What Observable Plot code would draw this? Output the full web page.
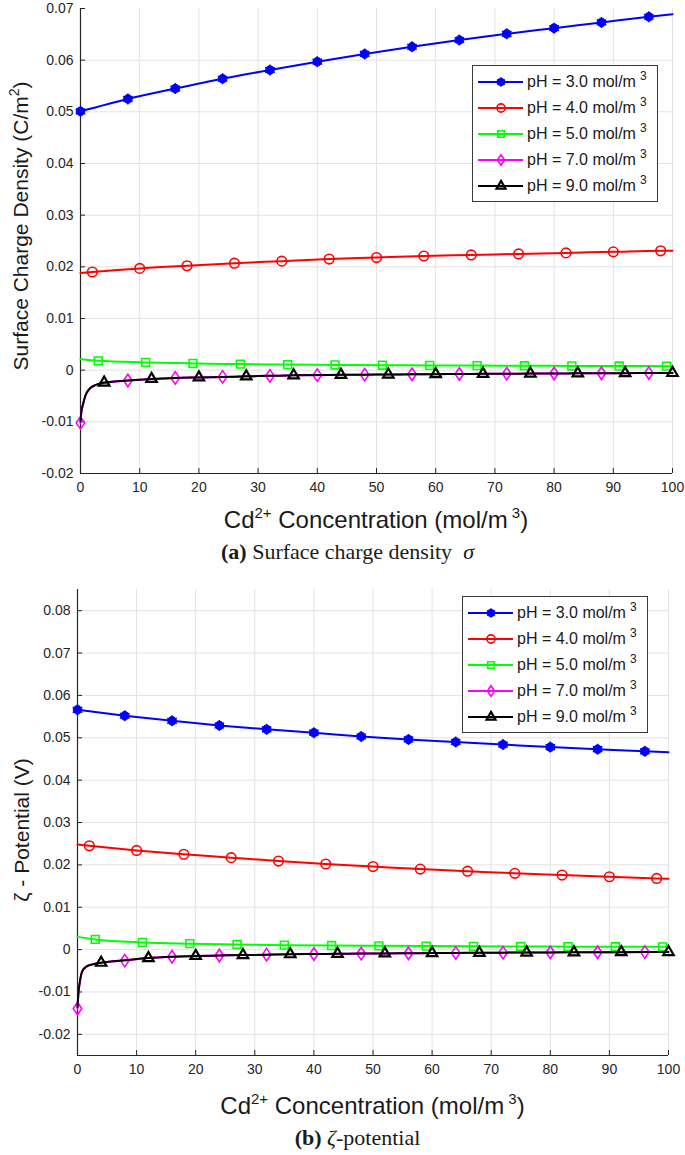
<!DOCTYPE html>
<html>
<head>
<meta charset="utf-8">
<script src="https://cdn.jsdelivr.net/npm/d3@7"></script>
<script src="https://cdn.jsdelivr.net/npm/@observablehq/plot@0.6"></script>
<style>
  body { margin: 0; background: #fff; }
  #page { position: relative; width: 685px; height: 1155px; overflow: hidden; font-family: "Liberation Sans", Arial, Helvetica, sans-serif; color: #1a1a1a; }
  .xlab { font-size: 24px; text-align: center; white-space: nowrap; line-height: 28px; }
  .ylab { font-size: 21px; white-space: nowrap; line-height: 26px; transform: translate(-50%, -50%) rotate(-90deg); }
  .sup { font-size: 15px; position: relative; top: -10px; }
  .ysup { font-size: 14px; position: relative; top: -9px; }
  .cap { font-family: "Liberation Serif", "Times New Roman", serif; font-size: 22px; text-align: center; white-space: nowrap; line-height: 26px; }
  .legend { position: absolute; background: #fff; border: 1px solid #3a3a3a; box-sizing: border-box; }
  .lrow { position: absolute; left: 0; height: 22px; display: flex; align-items: center; font-size: 16px; white-space: nowrap; }
  .lsup { font-size: 12px; position: relative; top: -7px; margin-left: 4px; }
</style>
</head>
<body>
<div id="page"></div>
<script>
// ---------- data ----------
const xTicks = [0, 10, 20, 30, 40, 50, 60, 70, 80, 90, 100];
const yTicksA = [-0.02, -0.01, 0, 0.01, 0.02, 0.03, 0.04, 0.05, 0.06, 0.07];
const yTicksB = [-0.02, -0.01, 0, 0.01, 0.02, 0.03, 0.04, 0.05, 0.06, 0.07, 0.08];
const yDomainA = [-0.02, 0.07];
const yDomainB = [-0.025, 0.085];

const seriesNames = ["pH = 3.0 mol/m", "pH = 4.0 mol/m", "pH = 5.0 mol/m", "pH = 7.0 mol/m", "pH = 9.0 mol/m"];
const seriesColors = ["#0000ff", "#ff0000", "#00ff00", "#ff00ff", "#000000"];

// Cd2+ concentration samples for each series
const xPH3 = [0, 8, 16, 24, 32, 40, 48, 56, 64, 72, 80, 88, 96, 100];
const xPH4 = [0, 2, 10, 18, 26, 34, 42, 50, 58, 66, 74, 82, 90, 98, 100];
const xPH5 = [0, 3, 11, 19, 27, 35, 43, 51, 59, 67, 75, 83, 91, 99, 100];
const xPH79 = [0, 0.15, 0.4, 0.8, 1.5, 2.5, 4, 8, 12, 16, 20, 24, 28, 32, 36, 40, 44, 48, 52, 56, 60, 64, 68, 72, 76, 80, 84, 88, 92, 96, 100];

// marker locations
const markPH3 = [0, 8, 16, 24, 32, 40, 48, 56, 64, 72, 80, 88, 96];
const markPH4 = [2, 10, 18, 26, 34, 42, 50, 58, 66, 74, 82, 90, 98];
const markPH5 = [3, 11, 19, 27, 35, 43, 51, 59, 67, 75, 83, 91, 99];
const markPH7 = [0, 8, 16, 24, 32, 40, 48, 56, 64, 72, 80, 88, 96];
const markPH9 = [4, 12, 20, 28, 36, 44, 52, 60, 68, 76, 84, 92, 100];

// (a) surface charge density (C/m^2)
const sigmaPH3 = [0.0501, 0.0525, 0.0545, 0.0564, 0.0581, 0.0597, 0.0612, 0.0626, 0.0639, 0.0651, 0.0662, 0.0673, 0.0684, 0.0689];
const sigmaPH4 = [0.0188, 0.0190, 0.0197, 0.0202, 0.0207, 0.0211, 0.0215, 0.0218, 0.0221, 0.0223, 0.0225, 0.0227, 0.0229, 0.0231, 0.0231];
const sigmaPH5 = [0.0021, 0.0018, 0.0015, 0.0013, 0.00117, 0.00108, 0.00101, 0.00096, 0.00092, 0.00088, 0.00085, 0.00082, 0.0008, 0.00078, 0.00078];
const sigmaPH7 = [-0.0102, -0.0081, -0.0068, -0.0051, -0.0037, -0.0029, -0.0025, -0.0020, -0.0017, -0.0015, -0.0014, -0.0013, -0.0012, -0.0011, -0.0010, -0.00096, -0.00091, -0.00087, -0.00084, -0.0008, -0.00077, -0.00074, -0.00071, -0.00068, -0.00066, -0.00064, -0.00062, -0.0006, -0.00058, -0.00056, -0.00054];
const sigmaPH9 = [-0.0099, -0.0080, -0.0067, -0.0050, -0.0036, -0.0029, -0.0024, -0.0020, -0.0017, -0.0015, -0.0014, -0.0013, -0.0012, -0.0011, -0.0010, -0.00095, -0.0009, -0.00087, -0.00084, -0.0008, -0.00077, -0.00074, -0.00071, -0.00068, -0.00066, -0.00064, -0.00062, -0.0006, -0.00058, -0.00056, -0.00054];

// (b) zeta potential (V)
const zetaPH3 = [0.0566, 0.0552, 0.0540, 0.0529, 0.0520, 0.0512, 0.0503, 0.0496, 0.0490, 0.0484, 0.0478, 0.0473, 0.0468, 0.0466];
const zetaPH4 = [0.0248, 0.0245, 0.0234, 0.0225, 0.0217, 0.0209, 0.0202, 0.0196, 0.0190, 0.0185, 0.0180, 0.0176, 0.0172, 0.0168, 0.0167];
const zetaPH5 = [0.0030, 0.0024, 0.0017, 0.0014, 0.0012, 0.00105, 0.00095, 0.00088, 0.00082, 0.00077, 0.00073, 0.0007, 0.00067, 0.00065, 0.00065];
const zetaPH7 = [-0.0139, -0.0105, -0.0077, -0.0052, -0.0041, -0.0035, -0.0031, -0.0026, -0.0020, -0.0017, -0.0015, -0.0014, -0.0013, -0.0012, -0.0011, -0.00105, -0.001, -0.00095, -0.0009, -0.00086, -0.00082, -0.00078, -0.00075, -0.00072, -0.0007, -0.00067, -0.00065, -0.00063, -0.00061, -0.00059, -0.00057];
const zetaPH9 = [-0.0136, -0.0104, -0.0076, -0.0051, -0.0040, -0.0035, -0.0031, -0.0025, -0.0020, -0.0017, -0.0015, -0.0014, -0.0013, -0.0012, -0.0011, -0.00105, -0.001, -0.00095, -0.0009, -0.00086, -0.00082, -0.00078, -0.00075, -0.00072, -0.0007, -0.00067, -0.00065, -0.00063, -0.00061, -0.00059, -0.00057];

// ---------- styles ----------
const tallDiamond = {
  draw(ctx, size) {
    const r = Math.sqrt(size / Math.PI);
    const h = r * 1.25, w = r * 0.85;
    ctx.moveTo(0, -h); ctx.lineTo(w, 0); ctx.lineTo(0, h); ctx.lineTo(-w, 0); ctx.closePath();
  }
};
const markerStyles = [
  [{symbol: "circle", r: 4.3, fill: "c", stroke: "c", strokeWidth: 1}, {symbol: "asterisk", r: 5.2, fill: "none", stroke: "c", strokeWidth: 1.4}],
  [{symbol: "circle", r: 4.8, fill: "none", stroke: "c", strokeWidth: 1.6}],
  [{symbol: "square", r: 4.4, fill: "none", stroke: "c", strokeWidth: 1.6}],
  [{symbol: tallDiamond, r: 5, fill: "none", stroke: "c", strokeWidth: 1.6}],
  [{symbol: "triangle2", r: 5, fill: "none", stroke: "c", strokeWidth: 2.2}]
];
const axisColor = "#262626";
const gridColor = "#e3e3e3";

const rows = (xs, ys) => xs.map((x, i) => ({x, y: ys[i]}));

function seriesMarks(xs, ys, marks, k) {
  const data = rows(xs, ys);
  const color = seriesColors[k];
  const out = [Plot.line(data, {x: "x", y: "y", stroke: color, strokeWidth: 2, curve: "monotone-x"})];
  const md = data.filter(d => marks.includes(d.x));
  for (const s of markerStyles[k]) {
    out.push(Plot.dot(md, {x: "x", y: "y", symbol: s.symbol, r: s.r,
      fill: s.fill === "c" ? color : s.fill, stroke: color, strokeWidth: s.strokeWidth}));
  }
  return out;
}

function panel({yDomain, yTicks, gridY, series, marginLeft, marginRight, marginTop, plotHeight}) {
  return Plot.plot({
    width: 685,
    height: marginTop + plotHeight + 30,
    marginLeft, marginRight, marginTop, marginBottom: 30,
    x: {domain: [0, 100]},
    y: {domain: yDomain},
    style: {fontFamily: "'Liberation Sans', Arial, sans-serif", fontSize: "14px", color: axisColor, background: "transparent", overflow: "visible"},
    marks: [
      Plot.gridX(xTicks, {stroke: gridColor, strokeOpacity: 1, strokeWidth: 1}),
      Plot.gridY(gridY, {stroke: gridColor, strokeOpacity: 1, strokeWidth: 1}),
      Plot.ruleX([0], {stroke: axisColor, strokeWidth: 1.2}),
      Plot.ruleY([yDomain[0]], {stroke: axisColor, strokeWidth: 1.2}),
      Plot.axisX(xTicks, {anchor: "bottom", tickSize: -5, tickPadding: 14, tickFormat: d => String(d), label: null, stroke: axisColor}),
      Plot.axisY(yTicks, {anchor: "left", tickSize: -5, tickPadding: 12, tickFormat: d => String(d), label: null, stroke: axisColor}),
      ...series.flatMap(([xs, ys, m], k) => seriesMarks(xs, ys, m, k))
    ]
  });
}

const page = document.getElementById("page");

function place(el, left, top) {
  el.style.position = "absolute";
  el.style.left = left + "px";
  el.style.top = top + "px";
  page.appendChild(el);
}

function legend(left, top) {
  const box = document.createElement("div");
  box.className = "legend";
  box.style.left = left + "px";
  box.style.top = top + "px";
  box.style.width = "186px";
  box.style.height = "137px";
  seriesNames.forEach((name, k) => {
    const row = document.createElement("div");
    row.className = "lrow";
    row.style.top = (5 + 26 * k) + "px";
    const svg = d3.create("svg").attr("width", 54).attr("height", 22);
    const c = seriesColors[k];
    svg.append("line").attr("x1", 5).attr("x2", 50).attr("y1", 11).attr("y2", 11).attr("stroke", c).attr("stroke-width", 2);
    for (const s of markerStyles[k]) {
      let type = s.symbol;
      if (type === "circle") type = d3.symbolCircle;
      else if (type === "square") type = d3.symbolSquare;
      else if (type === "triangle2") type = d3.symbolTriangle2;
      else if (type === "asterisk") type = d3.symbolAsterisk;
      const rr = s.r * 0.85;
      svg.append("path").attr("d", d3.symbol(type, Math.PI * rr * rr)())
        .attr("transform", "translate(28,11)")
        .attr("fill", s.fill === "c" ? c : "none").attr("stroke", c).attr("stroke-width", s.strokeWidth);
    }
    row.appendChild(svg.node());
    const t = document.createElement("span");
    t.innerHTML = name + '<span class="lsup">3</span>';
    row.appendChild(t);
    box.appendChild(row);
  });
  page.appendChild(box);
}

// ---------- panel (a) ----------
const plotA = panel({
  yDomain: yDomainA, yTicks: yTicksA, gridY: yTicksA.filter(v => v < yDomainA[1]),
  series: [[xPH3, sigmaPH3, markPH3], [xPH4, sigmaPH4, markPH4], [xPH5, sigmaPH5, markPH5], [xPH79, sigmaPH7, markPH7], [xPH79, sigmaPH9, markPH9]],
  marginLeft: 80, marginRight: 13, marginTop: 8, plotHeight: 465
});
place(plotA, 0, 0);
legend(472, 65);

const xa = document.createElement("div");
xa.className = "xlab";
xa.style.width = "592px";
xa.innerHTML = 'Cd<span class="sup">2+</span> Concentration (mol/m<span class="sup">&nbsp;3</span>)';
place(xa, 80, 506);

const ya = document.createElement("div");
ya.className = "ylab";
ya.innerHTML = 'Surface Charge Density (C/m<span class="ysup">2</span>)';
place(ya, 22, 226);

const ca = document.createElement("div");
ca.className = "cap";
ca.style.width = "685px";
ca.innerHTML = '<b>(a)</b> Surface charge density &nbsp;<i>σ</i>';
place(ca, 5, 539);

// ---------- panel (b) ----------
const plotB = panel({
  yDomain: yDomainB, yTicks: yTicksB, gridY: yTicksB,
  series: [[xPH3, zetaPH3, markPH3], [xPH4, zetaPH4, markPH4], [xPH5, zetaPH5, markPH5], [xPH79, zetaPH7, markPH7], [xPH79, zetaPH9, markPH9]],
  marginLeft: 77, marginRight: 17, marginTop: 9, plotHeight: 466
});
place(plotB, 0, 580);
legend(462, 596);

const xb = document.createElement("div");
xb.className = "xlab";
xb.style.width = "591px";
xb.innerHTML = 'Cd<span class="sup">2+</span> Concentration (mol/m<span class="sup">&nbsp;3</span>)';
place(xb, 77, 1092);

const yb = document.createElement("div");
yb.className = "ylab";
yb.innerHTML = 'ζ - Potential (V)';
place(yb, 22, 830);

const cb = document.createElement("div");
cb.className = "cap";
cb.style.width = "685px";
cb.innerHTML = '<b>(b)</b> <i>ζ</i>-potential';
place(cb, 15, 1125);
</script>
</body>
</html>
